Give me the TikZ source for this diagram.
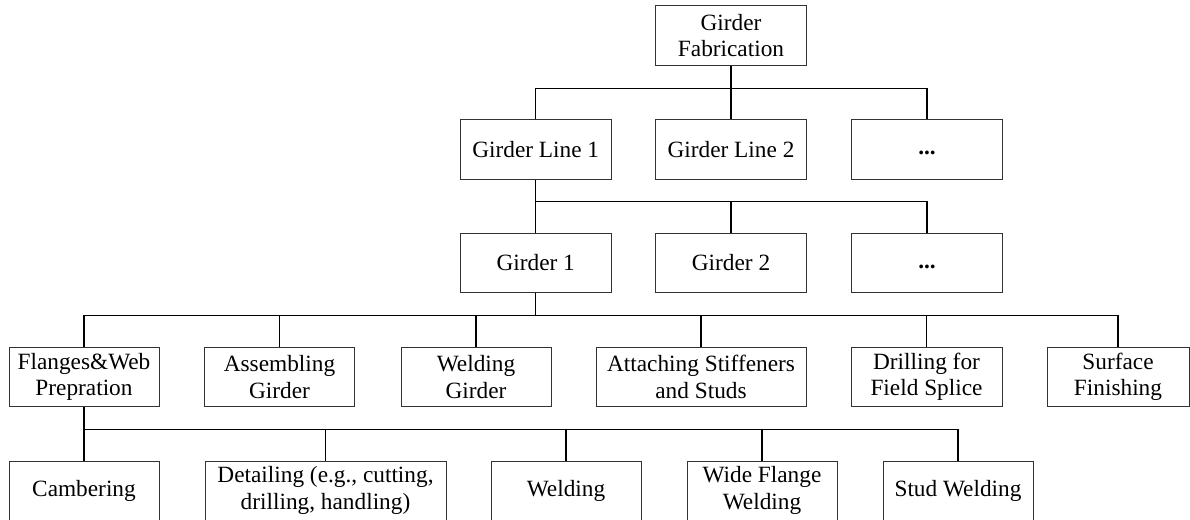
\documentclass[tikz,border=0pt]{standalone}
\usepackage{fontspec}
\setmainfont{Liberation Serif}
\newcommand{\moredots}{\vphantom{Gg}\textbf{...}}
\begin{document}
\begin{tikzpicture}[x=1pt,y=-1pt,
  box/.style={draw=black!80,line width=1pt,rectangle,inner sep=0pt,
    minimum height=59.3pt,minimum width=150pt,align=center,
    font=\fontsize{23.3}{26.5}\selectfont},
  link/.style={draw=black,line width=1.2pt}]
\useasboundingbox (0,0) rectangle (1190,519);
\clip (0,0) rectangle (1190,519);

% root
\node[box,minimum width=151pt] (fab) at (731,35.35) {Girder\\Fabrication};

% girder lines
\node[box,minimum width=151pt] (gl1) at (535.7,149.35) {Girder Line 1};
\node[box,minimum width=151pt] (gl2) at (731,149.35) {Girder Line 2};
\node[box,minimum width=151pt] (gl3) at (927,149.35) {\moredots};

% girders
\node[box,minimum width=151pt] (g1) at (535.7,262.8) {Girder 1};
\node[box,minimum width=151pt] (g2) at (731,262.8) {Girder 2};
\node[box,minimum width=151pt] (g3) at (927,262.8) {\moredots};

% girder tasks
\node[box] (fw)  at (84,376.9)    {Flanges\&Web\\Prepration};
\node[box] (asm) at (279.5,376.9) {Assembling\\Girder};
\node[box] (wg)  at (476,376.9)   {Welding\\Girder};
\node[box,minimum width=210pt] (att) at (701,376.9) {Attaching Stiffeners\\and Studs};
\node[box,minimum width=151pt] (drl) at (926.5,376.9) {Drilling for\\Field Splice};
\node[box,minimum width=142pt] (srf) at (1118,376.9) {Surface\\Finishing};

% flange and web preparation tasks
\node[box] (cam) at (84,490.65)   {Cambering};
\node[box,minimum width=241pt] (det) at (325.5,490.65) {Detailing (e.g., cutting,\\drilling, handling)};
\node[box] (wel) at (566,490.65)  {Welding};
\node[box] (wfw) at (762,490.65)  {Wide Flange\\Welding};
\node[box] (stu) at (958,490.65)  {Stud Welding};

% tree connectors
\foreach \c in {gl1,gl2,gl3}
  \draw[link] (fab.south) -- ++(0,22.7) -| (\c.north);
\foreach \c in {g1,g2,g3}
  \draw[link] (gl1.south) -- ++(0,22.0) -| (\c.north);
\foreach \c in {fw,asm,wg,att,drl,srf}
  \draw[link] (g1.south) -- ++(0,22.7) -| (\c.north);
\foreach \c in {cam,det,wel,wfw,stu}
  \draw[link] (fw.south) -- ++(0,22.5) -| (\c.north);
\end{tikzpicture}
\end{document}
